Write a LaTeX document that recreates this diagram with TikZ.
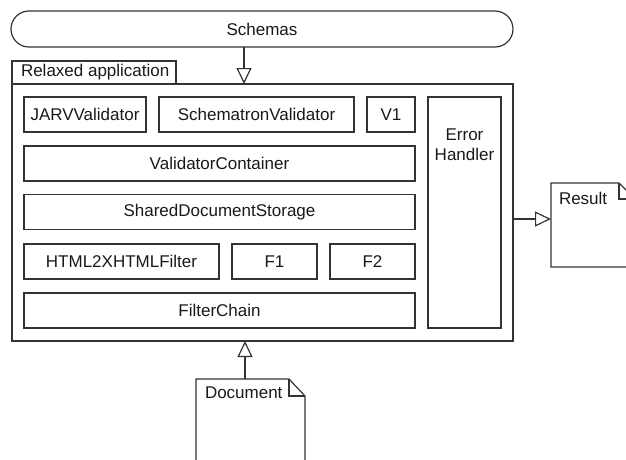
\documentclass[tikz,border=0pt]{standalone}
\usepackage{fontspec}
\setmainfont{Liberation Sans}
\usetikzlibrary{arrows.meta}
\begin{document}
\begin{tikzpicture}[x=1pt,y=-1pt,
  every node/.style={font=\fontsize{17}{20}\selectfont, text=black!90, inner sep=0pt, outer sep=0pt},
  box/.style={draw=black!80, line width=1.2pt, rectangle},
  ln/.style={draw=black!80, line width=1.2pt},
  arr/.style={ln, -{Triangle[open, length=16pt, width=15pt, line width=1.2pt]}}]
\useasboundingbox (0,0) rectangle (626,459);
\clip (0,0) rectangle (626,459);
% Schemas
\node[box, rounded corners=18pt, minimum width=502pt, minimum height=36pt] (schemas) at (262,29) {Schemas};
% main box and tab
\node[box, minimum width=501pt, minimum height=257pt] (main) at (262.5,212.5) {};
\node[box, minimum width=164pt, minimum height=23pt] (tab) at (94,72.5) {};
\node[anchor=west] (tablabel) at (tab.west) [xshift=9pt, yshift=0.5pt] {Relaxed application};
% inner components
\node[box, minimum width=122pt, minimum height=35pt] (jarv) at (85,114.5) {JARVValidator};
\node[box, minimum width=195pt, minimum height=35pt] (schem) at (256.5,114.5) {SchematronValidator};
\node[box, minimum width=48pt, minimum height=35pt] (v1) at (391,114.5) {V1};
\node[box, minimum width=73pt, minimum height=231pt] (eh) at (464.5,212.5) {};
\node[anchor=north, align=center] (ehlabel) at (464.5,129) {Error\\Handler};
\node[box, minimum width=391pt, minimum height=35pt] (vc) at (219.5,163.5) {ValidatorContainer};
\node[box, minimum width=391pt, minimum height=35pt] (sds) at (219.5,212) {SharedDocumentStorage};
\node[box, minimum width=195pt, minimum height=35pt] (html) at (121.5,261.5) {HTML2XHTMLFilter};
\node[box, minimum width=85pt, minimum height=35pt] (f1) at (274.5,261.5) {F1};
\node[box, minimum width=85pt, minimum height=35pt] (f2) at (372.5,261.5) {F2};
\node[box, minimum width=391pt, minimum height=35pt] (fc) at (219.5,310.5) {FilterChain};
% Result note
\draw[ln, fill=white] (551,183) -- (619,183) -- (635,199) -- (635,267) -- (551,267) -- cycle;
\draw[ln] (619,183) -- (619,199) -- (635,199);
\node[anchor=north west] (result) at (559,192) {Result};
\coordinate (rin) at (551,219);
% Document note
\draw[ln, fill=white] (196,480) -- (196,379) -- (289,379) -- (305,396) -- (305,480);
\draw[ln] (289,379) -- (289,396) -- (305,396);
\node[anchor=north west] (doc) at (205,387) {Document};
\coordinate (din) at (245,379);
% connectors
\draw[arr] (schemas.south -| 244,0) -- (main.north -| 244,0);
\draw[arr] (main.east |- rin) -- (rin);
\draw[arr] (din) -- (main.south -| din);
\end{tikzpicture}
\end{document}
